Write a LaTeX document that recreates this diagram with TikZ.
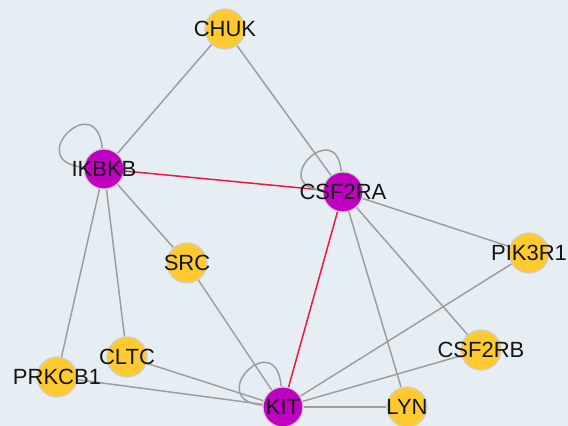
\documentclass[tikz,border=0pt]{standalone}
\usepackage{fontspec}
\setmainfont{Liberation Sans}
\definecolor{bgcol}{RGB}{230,238,244}
\definecolor{nodeyellow}{RGB}{255,202,48}
\definecolor{nodemag}{RGB}{192,0,192}
\definecolor{bordergray}{RGB}{206,206,206}
\definecolor{edgegray}{RGB}{158,158,158}
\definecolor{edgered}{RGB}{240,22,72}
\definecolor{labelblack}{RGB}{20,20,20}
\pgfdeclarelayer{edgelayer}
\pgfsetlayers{edgelayer,main}
\begin{document}
\begin{tikzpicture}[x=1pt,y=1pt,
  gnode/.style={circle, draw=bordergray, line width=1.2pt, minimum size=40pt, inner sep=0pt},
  ynode/.style={gnode, fill=nodeyellow},
  mnode/.style={gnode, fill=nodemag},
  lbl/.style={font=\fontsize{22}{24}\selectfont, text=labelblack, inner sep=0pt},
  edge/.style={draw=edgegray, line width=1.5pt},
  redge/.style={draw=edgered, line width=1.5pt}]
\useasboundingbox (0,0) rectangle (568,426);
\node[ynode, label={[lbl]center:CHUK}] (chuk) at (225,397) {};
\node[mnode, label={[lbl]center:IKBKB}] (ikbkb) at (104,257) {};
\node[mnode, label={[lbl]center:CSF2RA}] (csf2ra) at (343,234) {};
\node[ynode, label={[lbl]center:SRC}] (src) at (187,163) {};
\node[ynode, label={[lbl]center:PIK3R1}] (pik3r1) at (529,173) {};
\node[ynode, label={[lbl]center:CLTC}] (cltc) at (127,69) {};
\node[ynode, label={[lbl]center:PRKCB1}] (prkcb1) at (57,49) {};
\node[ynode, label={[lbl]center:CSF2RB}] (csf2rb) at (481,76) {};
\node[mnode, label={[lbl]center:KIT}] (kit) at (283,19) {};
\node[ynode, label={[lbl]center:LYN}] (lyn) at (407,19) {};
\begin{pgfonlayer}{edgelayer}
\fill[bgcol] (0,0) rectangle (568,426);
\draw[edge] (chuk) -- (ikbkb);
\draw[edge] (chuk) -- (csf2ra);
\draw[redge] (ikbkb) -- (csf2ra);
\draw[redge] (csf2ra) -- (kit);
\draw[edge] (ikbkb) -- (src);
\draw[edge] (ikbkb) -- (cltc);
\draw[edge] (ikbkb) -- (prkcb1);
\draw[edge] (csf2ra) -- (pik3r1);
\draw[edge] (csf2ra) -- (csf2rb);
\draw[edge] (csf2ra) -- (lyn);
\draw[edge] (src) -- (kit);
\draw[edge] (cltc) -- (kit);
\draw[edge] (prkcb1) -- (kit);
\draw[edge] (pik3r1) -- (kit);
\draw[edge] (csf2rb) -- (kit);
\draw[edge] (lyn) -- (kit);
\draw[edge] (ikbkb.95) .. controls +(95:62) and +(175:62) .. (ikbkb.175);
\draw[edge] (csf2ra.95) .. controls +(95:56) and +(175:56) .. (csf2ra.175);
\draw[edge] (kit.95) .. controls +(95:62) and +(175:60) .. (kit.175);
\end{pgfonlayer}
\end{tikzpicture}
\end{document}
